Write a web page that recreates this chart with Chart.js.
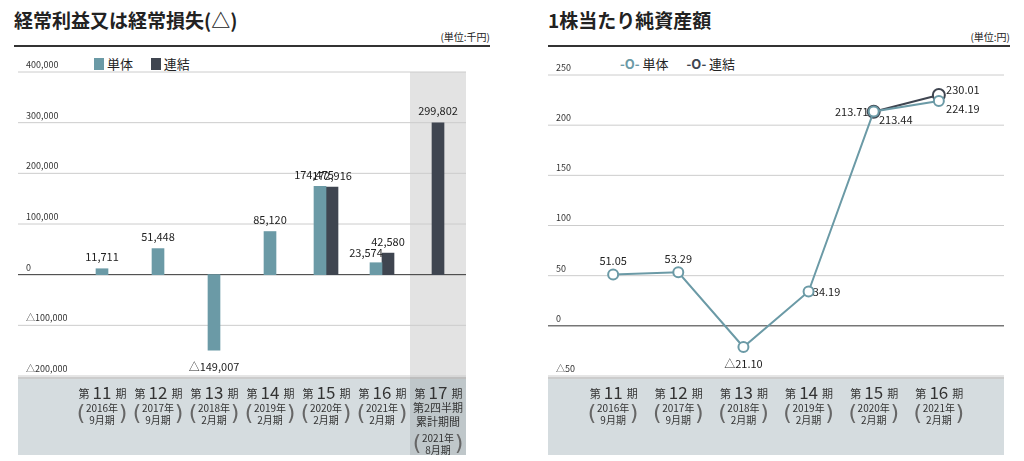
<!DOCTYPE html>
<html><head><meta charset="utf-8">
<script src="https://cdn.jsdelivr.net/npm/chart.js@4"></script>
<style>
body{margin:0;background:#fff;font-family:"Noto Sans CJK JP","Noto Sans",sans-serif;color:#222}
.box{position:absolute;top:0;width:490px;height:461px}
.ttl{position:absolute;top:6px;font-size:19px;font-weight:bold}
.unit{position:absolute;top:29px;right:14px;font-size:10px}
.rule{position:absolute;top:45px;left:0;right:14px;height:2px;background:#333}
.leg{position:absolute;top:52px;font-size:13px}
.leg span{display:inline-block;margin-right:18px;vertical-align:middle}
canvas{position:absolute;left:0;top:0}
</style></head><body>
<div class="box" style="left:14px">
 <div class="ttl" style="left:0">経常利益又は経常損失(△)</div>
 <div class="unit">(単位:千円)</div><div class="rule"></div>
 <div class="leg" style="left:80px"><span><i style="display:inline-block;width:10px;height:12px;background:#6b9aa6;vertical-align:-1px"></i> 単体</span><span><i style="display:inline-block;width:10px;height:12px;background:#3f4550;vertical-align:-1px"></i> 連結</span></div>
</div>
<div class="box" style="left:534px">
 <div class="ttl" style="left:14px">1株当たり純資産額</div>
 <div class="unit">(単位:円)</div><div class="rule" style="left:14px"></div>
 <div class="leg" style="left:86px"><span><b style="color:#6b9aa6">-O-</b> 単体</span><span><b style="color:#3f4550">-O-</b> 連結</span></div>
</div>
<div style="position:absolute;left:0;top:0;width:490px;height:461px"><canvas id="c1" width="490" height="461"></canvas></div>
<div style="position:absolute;left:534px;top:0;width:490px;height:461px"><canvas id="c2" width="490" height="461"></canvas></div>
<script>
var periods = ['', '11', '12', '13', '14', '15', '16', '17'];
var years = ['', '2016年', '2017年', '2018年', '2019年', '2020年', '2021年', '2021年'];
var months = ['', '9月期', '9月期', '2月期', '2月期', '2月期', '2月期', '8月期'];
var profitSolo = [null, 11711, 51448, -149007, 85120, 174475, 23574, null];
var profitCons = [null, null, null, null, null, 172916, 42580, 299802];
var navPeriods = ['', '11', '12', '13', '14', '15', '16', ''];
var navSolo = [null, 51.05, 53.29, -21.10, 34.19, 213.71, 224.19, null];
var navCons = [null, null, null, null, null, 213.44, 230.01, null];
var leftTicks = [400000, 300000, 200000, 100000, 0, -100000, -200000];
var rightTicks = [250, 200, 150, 100, 50, 0, -50];
var TEAL = '#6b9aa6', DARK = '#3f4550';

function fmt(v, d) {
  var s = Math.abs(v).toLocaleString('en-US', {minimumFractionDigits: d, maximumFractionDigits: d});
  return v < 0 ? '△' + s : s;
}

function decor(ticks, labels, highlight) {
  return {
    id: 'decor',
    beforeDraw: function(ch) {
      var c = ch.ctx, a = ch.chartArea, x = ch.scales.x, y = ch.scales.y;
      c.save();
      c.fillStyle = '#d5dcdf';
      c.fillRect(a.left, a.bottom + 3, a.right - a.left, 455 - a.bottom - 3);
      if (highlight) {
        var w = x.getPixelForValue(1) - x.getPixelForValue(0);
        var cx = x.getPixelForValue(7);
        c.fillStyle = '#e3e3e3';
        c.fillRect(cx - w / 2, a.top, w, a.bottom - a.top + 3);
        c.fillStyle = '#bfc7ca';
        c.fillRect(cx - w / 2, a.bottom + 3, w, 455 - a.bottom - 3);
      }
      ticks.forEach(function(t) {
        var py = y.getPixelForValue(t);
        c.strokeStyle = t === 0 ? '#333' : '#ccc';
        c.lineWidth = 1;
        c.beginPath(); c.moveTo(a.left, py); c.lineTo(a.right, py); c.stroke();
        c.fillStyle = '#333'; c.font = '9px "Noto Sans CJK JP"';
        c.textBaseline = 'bottom';
        c.fillText(fmt(t, 0), a.left + 8, py - 3);
      });
      c.strokeStyle = '#999';
      c.beginPath(); c.moveTo(a.left, a.bottom + 2); c.lineTo(a.right, a.bottom + 2); c.stroke();
      labels.forEach(function(p, i) {
        if (!p) return;
        var px = x.getPixelForValue(i), top = a.bottom + 22;
        c.fillStyle = '#333'; c.textBaseline = 'alphabetic'; c.textAlign = 'center';
        c.font = '11px "Noto Sans CJK JP"';
        c.fillText('第', px - 18, top);
        c.fillText('期', px + 19, top);
        c.font = '17px "Noto Sans CJK JP"';
        c.fillText(p, px, top + 1);
        c.font = '10px "Noto Sans CJK JP"';
        var yy = top + 14;
        if (p === '17') {
          c.font = '11px "Noto Sans CJK JP"';
          c.fillText('第2四半期', px, yy); c.fillText('累計期間', px, yy + 14);
          yy += 30; c.font = '10px "Noto Sans CJK JP"';
        }
        c.fillText(years[i], px, yy); c.fillText(months[i], px, yy + 12);
        c.font = '22px "DejaVu Sans"'; c.fillStyle = '#666';
        c.fillText('(', px - 21, yy + 8); c.fillText(')', px + 21, yy + 8);
      });
      c.restore();
    }
  };
}

function labelPlugin(offsets, digits) {
  return {
    id: 'vals',
    afterDatasetsDraw: function(ch) {
      var c = ch.ctx;
      c.save(); c.fillStyle = '#222'; c.font = '11px "Noto Sans CJK JP"'; c.textAlign = 'center';
      ch.data.datasets.forEach(function(ds, di) {
        ch.getDatasetMeta(di).data.forEach(function(el, i) {
          var v = ds.data[i];
          if (v === null) return;
          var o = offsets[di][i] || [0, -6];
          c.textBaseline = 'bottom';
          c.fillText(fmt(v, digits), el.x + o[0], el.y + o[1]);
        });
      });
      c.restore();
    }
  };
}

new Chart(document.getElementById('c1'), {
  type: 'bar',
  data: { labels: periods, datasets: [
    { label: '単体', data: profitSolo, backgroundColor: TEAL, barThickness: 12 },
    { label: '連結', data: profitCons, backgroundColor: DARK, barThickness: 12 }
  ]},
  options: {
    animation: false, responsive: false, devicePixelRatio: 1,
    layout: { padding: { left: 18, right: 24, top: 72, bottom: 85 } },
    plugins: { legend: { display: false }, tooltip: { enabled: false } },
    scales: {
      x: { display: false },
      y: { display: false, min: -200000, max: 400000 }
    },
    datasets: { bar: { categoryPercentage: 0.5, barPercentage: 1, skipNull: true } }
  },
  plugins: [decor(leftTicks, periods, true), labelPlugin([[null, null, null, [0, 22], null, [-6, -6], [-10, -4]], []], 0)]
});

new Chart(document.getElementById('c2'), {
  type: 'line',
  data: { labels: navPeriods, datasets: [
    { label: '単体', data: navSolo, borderColor: TEAL, backgroundColor: '#fff', pointRadius: 5, pointBorderWidth: 2, borderWidth: 2 },
    { label: '連結', data: navCons, borderColor: DARK, backgroundColor: '#fff', pointRadius: 6, pointBorderWidth: 2, borderWidth: 2 }
  ]},
  options: {
    animation: false, responsive: false, devicePixelRatio: 1,
    layout: { padding: { left: 14, right: 20, top: 75, bottom: 85 } },
    plugins: { legend: { display: false }, tooltip: { enabled: false } },
    scales: {
      x: { display: false },
      y: { display: false, min: -50, max: 250 }
    }
  },
  plugins: [decor(rightTicks, navPeriods, false), labelPlugin([
    [null, [0, -8], [0, -8], [0, 22], [18, 6], [-22, 6], [24, 13]],
    [null, null, null, null, null, [22, 14], [24, 0]]
  ], 2)]
});
</script>
</body></html>
